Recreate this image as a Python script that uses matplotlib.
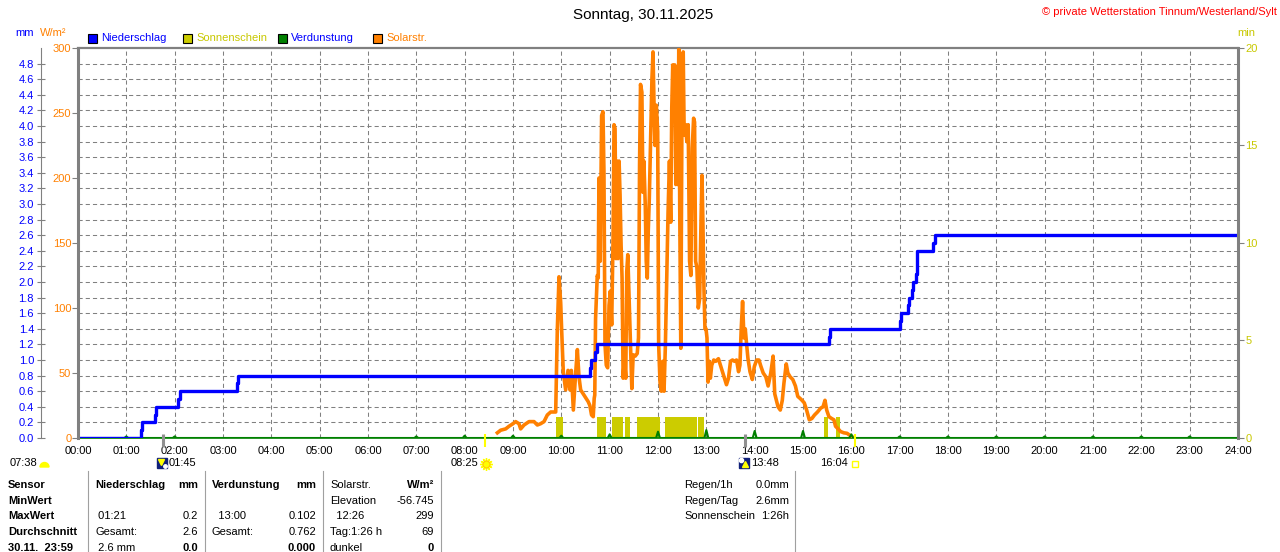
import numpy as np
import matplotlib
matplotlib.use('Agg')
import matplotlib.pyplot as plt
import matplotlib.transforms as mtransforms
from matplotlib.patches import Rectangle, Wedge
from matplotlib.ticker import FixedLocator, MultipleLocator

plt.rcParams['font.family'] = ['Liberation Sans', 'DejaVu Sans']
plt.rcParams['font.size'] = 8
plt.rcParams['lines.scale_dashes'] = False

W, H = 1280, 552

TITLE = 'Sonntag, 30.11.2025'
COPYRIGHT = '© private Wetterstation Tinnum/Westerland/Sylt'

# Niederschlag (cumulative, mm) - step times
rain_times = ['00:00', '01:18', '01:20', '01:35', '01:37', '02:04', '02:06', '03:17', '03:19',
              '10:36', '10:37', '10:42', '10:44', '15:32', '15:33', '17:01', '17:02', '17:10',
              '17:11', '17:15', '17:16', '17:20', '17:21', '17:42', '17:44', '24:00']
rain_mm = [0.0, 0.1, 0.2, 0.3, 0.4, 0.5, 0.6, 0.7, 0.8,
           0.9, 1.0, 1.1, 1.2, 1.3, 1.4, 1.5, 1.6, 1.7,
           1.8, 1.9, 2.0, 2.1, 2.4, 2.5, 2.6, 2.6]

# Verdunstung per hour (mm)
evap_hour = [1, 2, 7, 8, 9, 10, 11, 12, 13, 14, 15, 16, 17, 18, 19, 20, 21, 22, 23]
evap_mm = [0.02, 0.02, 0.02, 0.03, 0.03, 0.03, 0.047, 0.081, 0.102, 0.09, 0.09, 0.047,
           0.02, 0.02, 0.02, 0.02, 0.02, 0.02, 0.02]

# Sonnenschein (min per minute)
sun_start = ['09:53', '10:44', '11:03', '11:19', '11:34', '12:09', '12:50', '15:26', '15:41']
sun_end = ['10:02', '10:56', '11:16', '11:25', '12:02', '12:49', '12:57', '15:31', '15:46']
sun_min = [1.1, 1.1, 1.1, 1.1, 1.1, 1.1, 1.1, 1.1, 1.1]

# Solarstrahlung: minutes after midnight, W/m2
solar_minute = [
    520.6, 524.7, 530.9, 535.0, 540.0, 543.3, 547.4, 549.5, 553.7, 559.9,
    566.1, 570.2, 574.3, 578.5, 582.6, 586.8, 593.0, 595.0, 597.1, 599.2,
    600.4, 602.5, 605.4, 608.3, 610.7, 612.4, 614.9, 617.8, 619.9, 621.9,
    624.0, 628.1, 633.3, 635.4, 637.5, 639.6, 640.8, 641.5, 642.5, 644.6,
    645.8, 646.7, 648.3, 650.0, 651.7, 652.9, 654.2, 655.8, 657.5, 659.2,
    660.8, 662.5, 664.2, 665.4, 666.7, 667.9, 669.2, 670.4, 671.7, 672.9,
    674.2, 675.4, 676.7, 678.3, 680.0, 681.2, 682.5, 684.2, 685.8, 687.5,
    689.2, 691.7, 694.2, 695.8, 697.1, 698.3, 700.0, 701.3, 702.5, 704.2,
    705.4, 706.7, 707.9, 709.2, 710.8, 712.5, 713.8, 715.0, 716.3, 717.9,
    719.6, 720.8, 722.5, 724.2, 725.8, 727.5, 729.2, 730.8, 732.5, 734.2,
    735.8, 737.1, 738.3, 739.6, 740.8, 742.1, 743.3, 744.6, 745.8, 747.1,
    748.3, 749.6, 751.3, 752.5, 754.2, 755.8, 757.5, 759.2, 760.8, 762.5,
    764.2, 765.4, 766.7, 768.3, 770.0, 771.7, 773.3, 774.6, 775.8, 777.1,
    778.3, 779.6, 780.8, 782.1, 783.3, 785.0, 786.7, 789.2, 791.7, 795.0,
    797.5, 800.0, 802.5, 805.0, 807.5, 810.0, 812.5, 815.0, 817.5, 820.0,
    821.7, 823.3, 825.0, 826.7, 828.3, 830.0, 831.7, 834.2, 837.1, 839.6,
    842.4, 845.3, 847.8, 850.6, 853.9, 856.7, 860.0, 862.9, 864.9, 866.9,
    869.0, 871.8, 874.3, 876.3, 879.2, 881.2, 884.1, 887.3, 890.6, 893.5,
    896.3, 898.8, 901.6, 904.5, 907.8, 911.0, 914.3, 918.0, 922.0, 924.9,
    927.3, 929.4, 932.2, 935.5, 938.4, 940.4, 943.7, 946.5, 950.6, 954.7,
    957.6, 960.8]
solar_wm2 = [
    4, 6, 7, 9, 11, 12.6, 11, 7, 10, 12.6,
    12.6, 10, 11, 12.6, 17.7, 20, 20, 83, 124, 104,
    83, 50, 37, 52, 37, 52, 21.5, 50, 68, 47,
    37, 33, 28, 25, 17.7, 16.4, 30.5, 33, 92, 125,
    123, 200, 136, 248, 251, 205, 72, 56, 54, 102,
    113, 87, 154, 241, 238, 138, 213, 138, 213, 187,
    148, 123, 46, 61, 46, 128, 141, 105, 72, 38,
    64, 63, 65, 77, 210, 272, 266, 189, 213, 179,
    136, 123, 159, 184, 231, 277, 297, 259, 225, 256,
    236, 72, 43, 36, 59, 36, 72, 123, 174, 213,
    166, 254, 287, 254, 287, 195, 259, 195, 299, 166,
    69, 233, 297, 233, 241, 228, 241, 136, 125, 223,
    246, 243, 136, 131, 100, 107, 164, 202, 164, 113,
    84, 84, 77, 43, 59, 46, 56, 60, 59, 61,
    56, 51, 46, 41, 46, 59, 60, 59, 60, 51,
    56, 84, 105, 77, 84, 72, 61, 51, 45, 55,
    60, 60, 55, 50, 47, 40, 50, 63, 34, 29,
    24, 21.5, 29, 42, 57, 50, 47, 45, 40, 32,
    30.5, 29, 27, 21.5, 14, 15, 17.7, 20, 23, 24,
    29, 21.5, 16.4, 15, 14, 9, 7, 5, 4, 3.6,
    2.3, 1]

# Astro events below the time axis
moonset, sunrise, moonrise, sunset = '01:45', '08:25', '13:48', '16:04'
dawn = '07:38'

# Table below the chart
row_labels = ['Sensor', 'MinWert', 'MaxWert', 'Durchschnitt', '30.11.  23:59']
rain_col = [('', ''), ('', ''), (' 01:21', '0.2'), ('Gesamt:', '2.6'), (' 2.6 mm', '0.0')]
evap_col = [('', ''), ('', ''), ('  13:00', '0.102'), ('Gesamt:', '0.762'), ('', '0.000')]
solar_col = [('', ''), ('Elevation', '-56.745'), ('  12:26', '299'), ('Tag:1:26 h', '69'), ('dunkel', '0')]
summary_labels = ['Regen/1h', 'Regen/Tag', 'Sonnenschein']
summary_values = ['0.0mm', '2.6mm', '1:26h']

BLUE = '#0000FF'
ORANGE = '#FF8000'
YELLOW = '#CCCC00'
GREEN = '#008000'
GRAY = '#808080'


def hours(hhmm):
    h, m = hhmm.split(':')
    return int(h) + int(m) / 60


fig = plt.figure(figsize=(W / 100, H / 100), dpi=100)
px = mtransforms.Affine2D().scale(1 / W, -1 / H).translate(0, 1) + fig.transFigure

ax = fig.add_axes([78 / W, 1 - 438 / H, 1160 / W, 390 / H])
ax_w = ax.twinx()
ax_min = ax.twinx()
ax.set_autoscale_on(False)
ax.set_xlim(0, 24)
ax.set_ylim(0, 5.0)
ax_w.set_ylim(0, 300)
ax_min.set_ylim(0, 20)

# mm axis, offset to the left
ax.yaxis.set_major_locator(FixedLocator(np.round(np.arange(0, 4.81, 0.2), 1)))
ax.yaxis.set_major_formatter('{x:.1f}')
ax.spines['left'].set_position(('outward', 37 * 0.72))
ax.spines['left'].set_color(GRAY)
ax.spines['left'].set_linewidth(0.8)
ax.tick_params(axis='y', direction='inout', length=6, width=0.8, color=GRAY,
               labelcolor=BLUE, pad=2)
ax.spines['right'].set_visible(False)
ax.spines['top'].set_color(GRAY)
ax.spines['top'].set_linewidth(1.6)
ax.spines['bottom'].set_color(GREEN)
ax.spines['bottom'].set_linewidth(1.2)

ax.set_xticks(range(25))
ax.set_xticklabels([f'{h:02d}:00' for h in range(25)])
ax.tick_params(axis='x', length=0, pad=6, labelcolor='black')
ax.grid(True, color=GRAY, linestyle=(0, (3, 2.2)), linewidth=0.75)
ax.set_axisbelow(True)

# W/m2 axis on the frame
for s in ('right', 'top', 'bottom'):
    ax_w.spines[s].set_visible(False)
ax_w.yaxis.tick_left()
ax_w.spines['left'].set_visible(True)
ax_w.spines['left'].set_color(GRAY)
ax_w.spines['left'].set_linewidth(2.2)
ax_w.yaxis.set_major_locator(MultipleLocator(50))
ax_w.tick_params(axis='y', direction='out', length=4.3, width=0.8, color=GRAY,
                 labelcolor=ORANGE, pad=0.5)

# min axis on the right
for s in ('left', 'top', 'bottom'):
    ax_min.spines[s].set_visible(False)
ax_min.spines['right'].set_color(GRAY)
ax_min.spines['right'].set_linewidth(2.2)
ax_min.yaxis.set_major_locator(MultipleLocator(5))
ax_min.tick_params(axis='y', direction='out', length=4.3, width=0.8, color=GRAY,
                   labelcolor='#C8C800', pad=1)

# data
s_left = [hours(t) for t in sun_start]
s_width = [hours(e) - hours(s) for s, e in zip(sun_start, sun_end)]
ax.bar(s_left, sun_min, width=s_width, align='edge', color=YELLOW, linewidth=0,
       transform=ax_min.transData, zorder=2)

ax.plot([m / 60 for m in solar_minute], solar_wm2, color=ORANGE, linewidth=2.6,
        transform=ax_w.transData, zorder=3)

ex, ey = [0], [0]
for h, v in zip(evap_hour, evap_mm):
    ex += [h - 0.04, h, h + 0.04]
    ey += [0, v, 0]
ex.append(24)
ey.append(0)
ax.plot(ex, ey, color=GREEN, linewidth=1.5, zorder=4)

ax.plot([hours(t) for t in rain_times], rain_mm, drawstyle='steps-post', color=BLUE,
        linewidth=2.4, zorder=5)

# astro markers on the time axis
xt = ax.get_xaxis_transform()


def off(dx, dy):
    return xt + mtransforms.ScaledTranslation(dx / 100, -dy / 100, fig.dpi_scale_trans)


for t, c, lw in ((moonset, '#909090', 2.2), (moonrise, '#909090', 2.2),
                 (sunrise, '#FFFF00', 1.5), (sunset, '#FFFF00', 1.5)):
    ax.plot([hours(t), hours(t)], [0.01, -0.023], color=c, linewidth=lw,
            transform=xt, clip_on=False, solid_capstyle='butt', zorder=6)

row2 = 25
ax.annotate(sunrise, xy=(hours(sunrise), 0), xycoords=xt, xytext=(-6, -row2),
            textcoords='offset pixels', ha='right', va='center')
ax.plot([hours(sunrise)], [0], transform=off(1, row2 + 1), marker=(12, 2, 0), ms=9,
        color='#FFFF00', mew=1, clip_on=False)
ax.plot([hours(sunrise)], [0], transform=off(1, row2 + 1), marker='o', ms=5,
        color='#FFFF00', mec='#FFD000', clip_on=False)

ax.annotate(sunset, xy=(hours(sunset), 0), xycoords=xt, xytext=(-7, -row2),
            textcoords='offset pixels', ha='right', va='center')
ax.plot([hours(sunset)], [0], transform=off(0, row2 + 1), marker='s', ms=4.5,
        mfc='none', mec='#FFFF00', mew=1, clip_on=False)

for t in (moonset, moonrise):
    ax.annotate(t, xy=(hours(t), 0), xycoords=xt, xytext=(6, -row2),
                textcoords='offset pixels', ha='left', va='center')
    ax.plot([hours(t)], [0], transform=off(-1, row2), marker='s', ms=7.5,
            color='#10207A', clip_on=False)
ax.plot([hours(moonset)], [0], transform=off(-2, row2 - 1), marker='v', ms=4,
        color='#FFFF00', clip_on=False)
ax.plot([hours(moonset)], [0], transform=off(2, row2 + 3), marker='o', ms=2.5,
        color='white', clip_on=False)
ax.plot([hours(moonrise)], [0], transform=off(-4, row2 - 3), marker='o', ms=3,
        color='white', clip_on=False)
ax.plot([hours(moonrise)], [0], transform=off(0, row2 + 1), marker='^', ms=4,
        color='#FFFF00', clip_on=False)

fig.text(10, 463, dawn, transform=px, ha='left', va='center')
fig.add_artist(Wedge((44.5, 467), 4.5, 180, 360, transform=px, color='#FFFF00'))

# header
fig.text(643, 15, TITLE, transform=px, ha='center', va='center', fontsize=11)
fig.text(1277, 12, COPYRIGHT, transform=px, ha='right', va='center', color='#FF0000')
fig.text(15, 33, 'mm', transform=px, ha='left', va='center', color=BLUE)
fig.text(40, 33, 'W/m²', transform=px, ha='left', va='center', color=ORANGE)
fig.text(1237, 33, 'min', transform=px, ha='left', va='center', color='#C8C800')

legend = [('Niederschlag', BLUE, BLUE, 87.5, 101.5),
          ('Sonnenschein', YELLOW, '#C8C800', 182.5, 196.5),
          ('Verdunstung', GREEN, BLUE, 277.5, 291),
          ('Solarstr.', ORANGE, ORANGE, 372.5, 386.5)]
for label, fc, tc, sx, tx in legend:
    fig.add_artist(Rectangle((sx, 33.5), 9, 9, transform=px, facecolor=fc,
                             edgecolor='black', linewidth=0.8))
    fig.text(tx, 38, label, transform=px, ha='left', va='center', color=tc)

# table
row_y = [485, 500.7, 516.3, 532, 547.6]
for x in (88, 205, 323, 441, 795):
    fig.add_artist(plt.Line2D([x, x], [471, 552], transform=px, color='#A0A0A0', linewidth=0.8))
for i, y in enumerate(row_y):
    fig.text(8, y, row_labels[i], transform=px, ha='left', va='center', fontweight='bold')
    bold_val = i == 4
    for (lab, val), lx, rx in ((rain_col[i], 95, 198), (evap_col[i], 212, 316),
                               (solar_col[i], 330, 434)):
        fig.text(lx, y, lab, transform=px, ha='left', va='center')
        fig.text(rx, y, val, transform=px, ha='right', va='center',
                 fontweight='bold' if bold_val else 'normal')
y0 = row_y[0]
fig.text(95, y0, 'Niederschlag', transform=px, ha='left', va='center', fontweight='bold')
fig.text(198, y0, 'mm', transform=px, ha='right', va='center', fontweight='bold')
fig.text(212, y0, 'Verdunstung', transform=px, ha='left', va='center', fontweight='bold')
fig.text(316, y0, 'mm', transform=px, ha='right', va='center', fontweight='bold')
fig.text(330, y0, 'Solarstr.', transform=px, ha='left', va='center')
fig.text(434, y0, 'W/m²', transform=px, ha='right', va='center', fontweight='bold')
for i, (lab, val) in enumerate(zip(summary_labels, summary_values)):
    fig.text(684, row_y[i], lab, transform=px, ha='left', va='center')
    fig.text(789, row_y[i], val, transform=px, ha='right', va='center')

fig.savefig('out.png', dpi=100)
